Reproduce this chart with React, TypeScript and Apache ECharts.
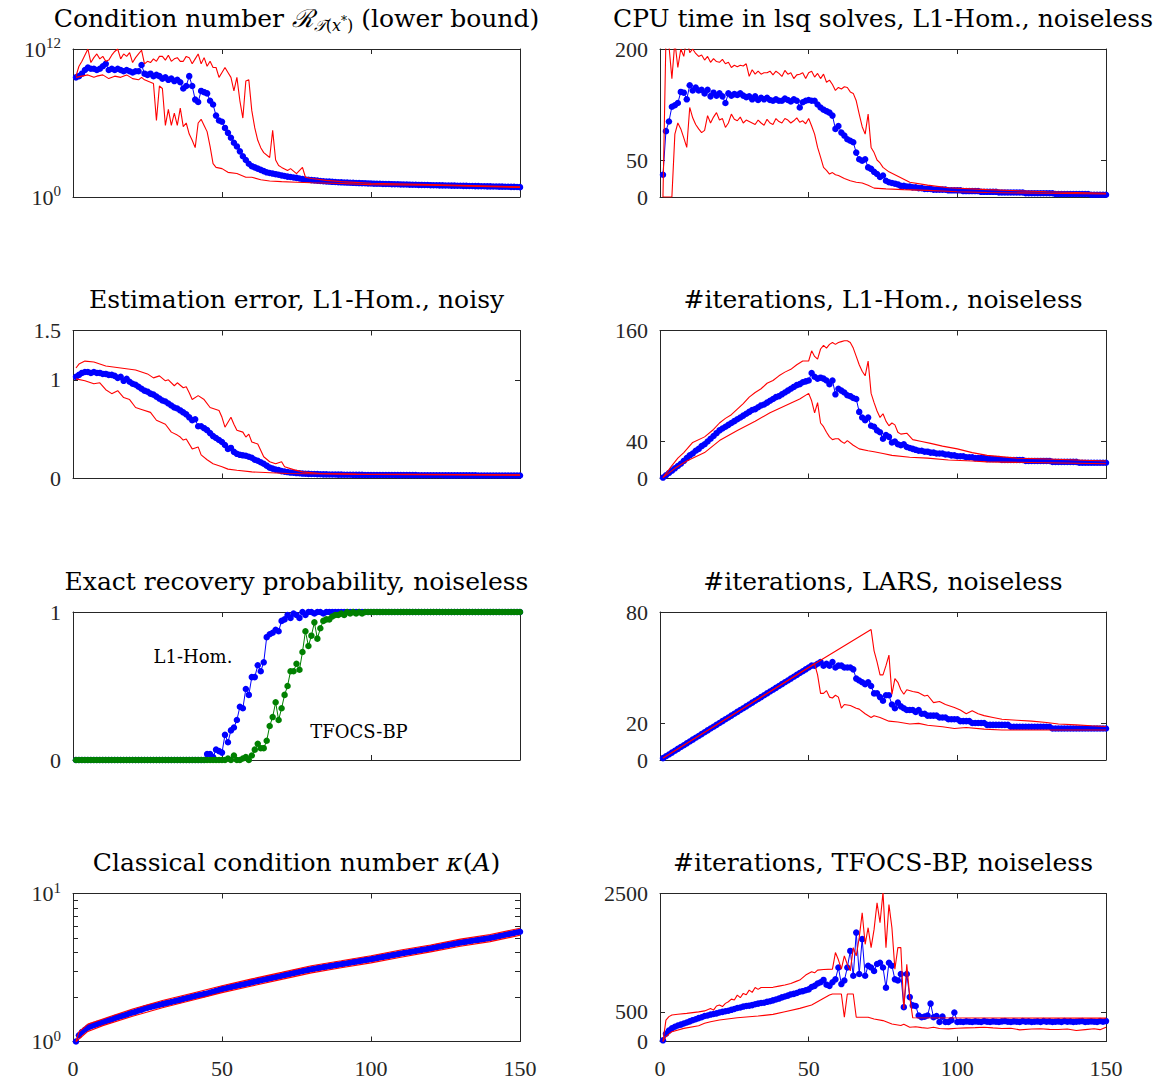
import React, { useEffect, useRef } from "react";
import * as echarts from "echarts";

// ---------- DATA (x = 1..150 for all index arrays) ----------
const xTicks = [0, 50, 100, 150];

// Panel 1: condition number (stored as log10 values)
const condBlueLog = [
  9.7, 9.8, 10.0, 10.3, 10.5, 10.4, 10.4, 10.3, 10.4, 10.6,
  10.8, 10.3, 10.4, 10.3, 10.4, 10.3, 10.2, 10.3, 10.2, 10.1,
  10.2, 10.2, 10.7, 10.0, 9.9, 10.0, 9.8, 9.9, 9.8, 9.6,
  9.7, 9.5, 9.6, 9.4, 9.5, 9.3, 8.8, 9.0, 9.8, 9.0,
  7.9, 7.7, 8.6, 8.5, 8.4, 7.8, 7.5, 6.6, 6.2, 6.1,
  5.6, 5.2, 4.8, 4.4, 4.1, 3.7, 3.3, 3.0, 2.7, 2.5,
  2.4, 2.3, 2.2, 2.1, 2.0, 1.95, 1.9, 1.85, 1.8, 1.75,
  1.7, 1.65, 1.62, 1.58, 1.55, 1.5, 1.45, 1.42, 1.4, 1.37,
  1.35, 1.33, 1.3, 1.28, 1.26, 1.25, 1.23, 1.22, 1.2, 1.19,
  1.18, 1.17, 1.16, 1.15, 1.14, 1.13, 1.12, 1.11, 1.1, 1.09,
  1.08, 1.07, 1.07, 1.06, 1.05, 1.05, 1.04, 1.03, 1.03, 1.02,
  1.01, 1.01, 1.0, 0.99, 0.99, 0.98, 0.98, 0.97, 0.97, 0.96,
  0.95, 0.95, 0.94, 0.94, 0.93, 0.93, 0.92, 0.92, 0.91, 0.91,
  0.9, 0.9, 0.89, 0.89, 0.88, 0.88, 0.87, 0.87, 0.86, 0.86,
  0.85, 0.85, 0.84, 0.84, 0.83, 0.83, 0.82, 0.82, 0.81, 0.8,
];
const condUpperLog = [
  [1, 9.8], [2, 10.6], [3, 11.0], [5, 12.0], [6, 10.9], [7, 11.3], [8, 11.6], [9, 11.2], [10, 11.4],
  [11, 11.0], [12, 11.1], [13, 11.5], [14, 11.8], [15, 12.0], [16, 11.2], [17, 11.6], [18, 11.4],
  [19, 11.7], [20, 10.9], [21, 11.3], [22, 11.6], [23, 11.9], [24, 10.8], [25, 11.0], [26, 10.9],
  [27, 11.2], [28, 11.0], [29, 11.4], [30, 11.4], [31, 11.1], [32, 11.5], [33, 11.0], [34, 11.2],
  [35, 11.3], [36, 11.0], [37, 11.0], [38, 11.4], [39, 11.3], [40, 10.8], [41, 11.2], [42, 11.6],
  [43, 10.8], [44, 11.3], [45, 10.6], [46, 11.0], [47, 10.5], [48, 10.5], [49, 9.7], [50, 10.1],
  [51, 10.5], [52, 10.1], [53, 9.7], [54, 8.6], [55, 9.7], [56, 7.8], [57, 6.4], [58, 9.4], [59, 9.5],
  [60, 7.0], [61, 5.6], [62, 4.6], [63, 4.0], [64, 3.6], [66, 3.2], [67, 5.4], [68, 3.0], [69, 2.55],
  [70, 2.4], [72, 2.15], [73, 2.3], [75, 1.9], [77, 2.4], [78, 1.6], [80, 1.5], [85, 1.35], [90, 1.25],
  [100, 1.12], [120, 1.0], [150, 0.82],
];
const condLowerLog = [
  [1, 9.7], [3, 9.8], [5, 9.9], [7, 9.7], [8, 9.8], [10, 9.9], [12, 9.6], [14, 9.8], [16, 9.7],
  [18, 9.9], [20, 9.6], [22, 9.5], [23, 9.7], [24, 9.5], [26, 9.3], [27, 9.2], [28, 6.2], [29, 9.0],
  [30, 8.8], [31, 5.8], [32, 7.1], [33, 5.8], [34, 6.8], [35, 5.8], [36, 7.2], [37, 5.7], [38, 6.0],
  [39, 5.1], [40, 4.6], [41, 4.0], [42, 6.0], [43, 6.3], [44, 5.8], [45, 5.3], [46, 4.1], [47, 2.7],
  [48, 2.4], [50, 2.3], [52, 2.0], [55, 1.9], [58, 1.6], [60, 1.6], [63, 1.4], [66, 1.3], [70, 1.25],
  [75, 1.2], [80, 1.15], [90, 1.1], [100, 1.0], [120, 0.95], [150, 0.78],
];

// Panel 2: CPU time
const cpuBlue = [
  30, 89, 102, 122, 124, 127, 142, 141, 132, 151,
  144, 148, 144, 145, 140, 145, 136, 141, 137, 140,
  136, 127, 140, 137, 139, 138, 140, 137, 135, 136,
  132, 136, 131, 134, 132, 134, 131, 130, 132, 130,
  130, 133, 131, 129, 132, 130, 121, 128, 130, 131,
  130, 130, 125, 121, 118, 116, 114, 110, 92, 96,
  87, 83, 78, 76, 74, 60, 51, 49, 51, 40,
  38, 34, 31, 27, 29, 22, 20, 19, 18, 17,
  15, 15, 14, 14, 13, 13, 12, 12, 11, 11,
  11, 10, 10, 10, 10, 10, 9, 9, 9, 9,
  9, 8, 8, 8, 8, 8, 8, 7, 7, 7,
  7, 7, 7, 6, 6, 6, 6, 6, 6, 6,
  6, 6, 5, 5, 5, 5, 5, 5, 5, 5,
  5, 5, 4, 4, 4, 4, 4, 4, 4, 4,
  4, 4, 4, 4, 3, 3, 3, 3, 3, 3,
];
const cpuUpper = [
  [1, 0], [2, 215], [3, 205], [4, 160], [5, 210], [6, 175], [7, 200], [8, 190], [9, 215], [10, 195],
  [11, 200], [12, 194], [13, 190], [14, 192], [15, 185], [16, 190], [17, 182], [18, 187], [19, 183],
  [20, 182], [21, 186], [22, 180], [23, 182], [24, 175], [25, 178], [26, 176], [27, 178], [28, 177],
  [29, 180], [30, 163], [31, 172], [32, 166], [33, 170], [34, 166], [35, 168], [36, 168], [37, 170],
  [38, 165], [39, 170], [40, 167], [41, 163], [42, 171], [43, 166], [44, 168], [45, 160], [46, 165],
  [47, 166], [48, 168], [49, 160], [50, 168], [51, 170], [52, 162], [53, 167], [54, 160], [55, 166],
  [56, 155], [57, 158], [58, 152], [59, 144], [60, 148], [61, 146], [62, 149], [63, 148], [64, 142],
  [65, 140], [66, 130], [67, 112], [68, 95], [69, 85], [70, 112], [71, 67], [72, 60], [73, 50],
  [74, 46], [75, 40], [77, 34], [80, 28], [84, 20], [90, 16], [97, 12.5], [110, 10], [130, 7], [150, 5],
];
const cpuLower = [
  [1, 0], [2, 0], [3, 0], [4, 0], [5, 85], [6, 100], [7, 92], [8, 80], [9, 67], [10, 121], [11, 107],
  [12, 98], [13, 92], [14, 87], [15, 90], [16, 110], [17, 100], [18, 108], [19, 114], [20, 104],
  [21, 106], [22, 94], [23, 100], [24, 112], [25, 105], [26, 103], [27, 108], [28, 100], [29, 104],
  [30, 102], [31, 100], [32, 98], [33, 104], [34, 100], [35, 97], [36, 105], [37, 100], [38, 98],
  [39, 106], [40, 102], [41, 100], [42, 106], [43, 104], [44, 100], [45, 103], [46, 107], [47, 101],
  [48, 103], [49, 99], [50, 106], [51, 96], [52, 85], [53, 67], [54, 54], [55, 40], [56, 36], [57, 31],
  [58, 33], [59, 30], [60, 29], [62, 25], [64, 22], [66, 20], [68, 19], [70, 16], [72, 12], [76, 11],
  [82, 10], [90, 9], [100, 7], [110, 6], [130, 5], [150, 4],
];

// Panel 3: estimation error
const estBlue = [
  1.03, 1.05, 1.07, 1.08, 1.08, 1.07, 1.08, 1.07, 1.07, 1.06,
  1.06, 1.05, 1.05, 1.04, 1.02, 1.03, 0.99, 1.01, 0.98, 0.96,
  0.95, 0.93, 0.91, 0.89, 0.88, 0.86, 0.85, 0.83, 0.81, 0.79,
  0.78, 0.76, 0.74, 0.72, 0.71, 0.69, 0.67, 0.65, 0.62, 0.59,
  0.6, 0.53, 0.53, 0.51, 0.49, 0.46, 0.43, 0.41, 0.39, 0.37,
  0.34, 0.3, 0.31, 0.27, 0.25, 0.24, 0.235, 0.23, 0.22, 0.21,
  0.19, 0.18, 0.165, 0.15, 0.13, 0.11, 0.1, 0.09, 0.085, 0.075,
  0.07, 0.065, 0.06, 0.058, 0.055, 0.053, 0.05, 0.048, 0.047, 0.046,
  0.045, 0.044, 0.043, 0.042, 0.042, 0.041, 0.04, 0.04, 0.039, 0.039,
  0.038, 0.038, 0.038, 0.037, 0.037, 0.037, 0.037, 0.036, 0.036, 0.036,
  0.036, 0.036, 0.035, 0.035, 0.035, 0.035, 0.035, 0.035, 0.034, 0.034,
  0.034, 0.034, 0.034, 0.034, 0.034, 0.033, 0.033, 0.033, 0.033, 0.033,
  0.033, 0.033, 0.033, 0.033, 0.032, 0.032, 0.032, 0.032, 0.032, 0.032,
  0.032, 0.032, 0.032, 0.032, 0.032, 0.031, 0.031, 0.031, 0.031, 0.031,
  0.031, 0.031, 0.031, 0.031, 0.031, 0.031, 0.03, 0.03, 0.03, 0.03,
];
const estUpper = [
  [1, 1.12], [2, 1.16], [4, 1.19], [7, 1.18], [11, 1.14], [16, 1.12], [21, 1.1], [25, 1.06], [27, 1.02],
  [29, 1.04], [31, 0.99], [32, 1.0], [34, 0.94], [35, 0.97], [37, 0.92], [38, 0.93], [39, 0.87],
  [40, 0.8], [42, 0.84], [44, 0.8], [46, 0.72], [49, 0.69], [50, 0.62], [51, 0.52], [53, 0.62],
  [54, 0.55], [55, 0.49], [57, 0.47], [58, 0.42], [59, 0.45], [60, 0.37], [62, 0.35], [64, 0.22],
  [66, 0.17], [68, 0.15], [70, 0.17], [71, 0.12], [74, 0.09], [77, 0.067], [83, 0.05], [95, 0.044],
  [150, 0.037],
];
const estLower = [
  [1, 1.01], [4, 0.99], [7, 0.96], [9, 0.97], [11, 0.9], [13, 0.86], [15, 0.89], [17, 0.82],
  [19, 0.8], [21, 0.72], [23, 0.7], [26, 0.67], [28, 0.59], [31, 0.55], [33, 0.47], [35, 0.44],
  [36, 0.42], [37, 0.39], [38, 0.4], [40, 0.3], [42, 0.32], [43, 0.24], [45, 0.19], [47, 0.15],
  [50, 0.12], [52, 0.095], [55, 0.084], [60, 0.067], [72, 0.05], [100, 0.04], [150, 0.034],
];

// Panel 4: #iterations, L1-Hom.
const itBlue = [
  1, 3.5, 6, 8.5, 11, 13.5, 16, 19, 22, 25,
  27, 30, 32, 35, 37, 40, 43, 46, 49, 52,
  54, 56, 58, 60, 62, 64, 66, 68, 70, 72,
  74, 75, 77, 79, 80, 82, 84, 86, 88, 89,
  91, 93, 95, 97, 99, 101, 102, 104, 105, 106,
  114, 110, 108, 109, 108, 106, 102, 106, 91, 97,
  95, 93, 90, 89, 87, 86, 72, 66, 63, 66,
  57, 56, 52, 50, 43, 47, 45, 39, 40, 37,
  36, 37, 34, 33, 32, 31, 30, 30, 29, 29,
  28, 28, 27, 27, 27, 26, 26, 25, 25, 24,
  24, 24, 23, 23, 23, 22, 22, 22, 22, 21,
  21, 21, 21, 21, 20, 20, 20, 20, 20, 20,
  20, 20, 19, 19, 19, 19, 19, 19, 19, 19,
  19, 18, 18, 18, 18, 18, 18, 18, 18, 18,
  17, 17, 17, 17, 17, 17, 17, 17, 17, 17,
];
const itUpper = [
  [1, 1], [4, 14], [6, 22], [8, 28], [11, 39], [15, 45], [18, 53], [20, 60], [22, 65], [24, 69],
  [26, 75], [28, 81], [30, 88], [32, 93], [34, 97], [36, 103], [38, 106], [40, 111], [42, 115],
  [44, 118], [46, 123], [48, 127], [50, 127], [51, 138], [52, 132], [53, 129], [54, 140], [55, 144],
  [56, 141], [57, 145], [58, 147], [59, 145], [60, 147], [61, 148], [62, 149], [63, 149], [64, 147],
  [65, 141], [66, 132], [67, 123], [68, 116], [69, 111], [70, 127], [71, 92], [72, 82], [73, 73],
  [74, 66], [75, 70], [76, 62], [77, 57], [78, 60], [79, 58], [80, 50], [81, 48], [83, 49], [85, 42],
  [88, 40], [91, 38], [95, 35], [100, 32], [105, 28], [110, 25], [120, 22], [130, 21], [150, 19],
];
const itLower = [
  [1, 1], [5, 11], [9, 19], [15, 28], [20, 41], [26, 52], [32, 62], [37, 71], [43, 80], [47, 86],
  [50, 92], [51, 84], [52, 71], [53, 82], [54, 60], [55, 56], [56, 50], [57, 45], [58, 42], [59, 43],
  [60, 43], [61, 40], [62, 38], [63, 41], [65, 36], [67, 32], [70, 30], [72, 29], [75, 27], [78, 25],
  [84, 23], [90, 22], [97, 20], [105, 19], [110, 18], [130, 17], [150, 16],
];

// Panel 5: exact recovery probability
const recHom = [
  0, 0, 0, 0, 0, 0, 0, 0, 0, 0,
  0, 0, 0, 0, 0, 0, 0, 0, 0, 0,
  0, 0, 0, 0, 0, 0, 0, 0, 0, 0,
  0, 0, 0, 0, 0, 0, 0, 0, 0, 0,
  0, 0, 0, 0, 0.04, 0.04, 0.02, 0.07, 0.06, 0.05,
  0.17, 0.12, 0.2, 0.22, 0.27, 0.36, 0.35, 0.48, 0.44, 0.56,
  0.56, 0.64, 0.6, 0.66, 0.83, 0.85, 0.86, 0.88, 0.87, 0.94,
  0.95, 0.98, 0.96, 0.99, 0.98, 0.96, 1, 0.98, 1, 1,
  0.99, 1, 1, 0.99, 1, 1, 1, 1, 1, 1,
  1, 1, 1, 1, 1, 1, 1, 1, 1, 1,
  1, 1, 1, 1, 1, 1, 1, 1, 1, 1,
  1, 1, 1, 1, 1, 1, 1, 1, 1, 1,
  1, 1, 1, 1, 1, 1, 1, 1, 1, 1,
  1, 1, 1, 1, 1, 1, 1, 1, 1, 1,
  1, 1, 1, 1, 1, 1, 1, 1, 1, 1,
];
const recTfocs = [
  0, 0, 0, 0, 0, 0, 0, 0, 0, 0,
  0, 0, 0, 0, 0, 0, 0, 0, 0, 0,
  0, 0, 0, 0, 0, 0, 0, 0, 0, 0,
  0, 0, 0, 0, 0, 0, 0, 0, 0, 0,
  0, 0, 0, 0, 0, 0, 0, 0, 0, 0,
  0, 0.01, 0, 0.03, 0, 0, 0.01, 0.02, 0, 0.03,
  0.07, 0.11, 0.08, 0.08, 0.13, 0.23, 0.29, 0.39, 0.27, 0.35,
  0.44, 0.5, 0.6, 0.6, 0.65, 0.61, 0.73, 0.87, 0.77, 0.84,
  0.93, 0.82, 0.89, 0.94, 0.95, 0.95, 0.97, 0.98, 0.98, 0.99,
  0.98, 1, 0.99, 1, 0.99, 1, 0.99, 1, 1, 1,
  1, 1, 1, 1, 1, 1, 1, 1, 1, 1,
  1, 1, 1, 1, 1, 1, 1, 1, 1, 1,
  1, 1, 1, 1, 1, 1, 1, 1, 1, 1,
  1, 1, 1, 1, 1, 1, 1, 1, 1, 1,
  1, 1, 1, 1, 1, 1, 1, 1, 1, 1,
];

// Panel 6: #iterations, LARS
const larsBlue = [
  1, 2, 3, 4, 5, 6, 7, 8, 9, 10,
  11, 12, 13, 14, 15, 16, 17, 18, 19, 20,
  21, 22, 23, 24, 25, 26, 27, 28, 29, 30,
  31, 32, 33, 34, 35, 36, 37, 38, 39, 40,
  41, 42, 43, 44, 45, 46, 47, 48, 49, 50,
  51, 51, 52, 53, 51, 52, 51, 53, 50, 51,
  51, 50, 50, 50, 49, 44, 43, 42, 41, 42,
  40, 36, 36, 34, 32, 35, 35, 30, 28, 31,
  29, 28, 27, 27, 27, 26, 27, 25, 25, 24,
  24, 24, 24, 23, 23, 23, 22, 22, 22, 22,
  21, 21, 21, 21, 20, 20, 20, 20, 20, 19,
  19, 19, 19, 19, 19, 19, 19, 18, 18, 18,
  18, 18, 18, 18, 18, 18, 18, 18, 18, 18,
  18, 17, 17, 17, 17, 17, 17, 17, 17, 17,
  17, 17, 17, 17, 17, 17, 17, 17, 17, 17,
];
const larsUpper = [
  [1, 1], [50, 50], [71, 70.5], [72, 59], [73, 53], [74, 46], [75, 46], [76, 51], [77, 56.7],
  [78, 35.5], [79, 44], [80, 42], [81, 38], [82, 35.5], [83, 38], [85, 37], [87, 36.4], [89, 34.6],
  [90, 35], [92, 31], [94, 31.6], [96, 30], [99, 28.4], [101, 27], [103, 25], [105, 26.6], [107, 25],
  [109, 24], [112, 23], [115, 22], [120, 21.5], [125, 21], [130, 20.3], [134, 19.5], [140, 19],
  [145, 18.5], [150, 18.1],
];
const larsLower = [
  [1, 1], [52, 52], [53, 46], [54, 36], [55, 36], [56, 37.5], [57, 34], [58, 33.5], [59, 35], [60, 34],
  [61, 28], [62, 30], [64, 29.5], [66, 28], [67, 27.5], [69, 25], [71, 23], [72, 23.9], [74, 23],
  [77, 21], [80, 20.5], [84, 19.5], [87, 19.8], [90, 18.8], [95, 18], [99, 17], [103, 17.6],
  [109, 16.7], [115, 16.2], [150, 16.2],
];

// Panel 7: classical condition number kappa(A)
const kappaBlue = [
  1.0, 1.1, 1.16, 1.2, 1.24, 1.27, 1.29, 1.31, 1.33, 1.35,
  1.37, 1.39, 1.41, 1.44, 1.46, 1.48, 1.5, 1.52, 1.55, 1.57,
  1.59, 1.62, 1.64, 1.67, 1.69, 1.71, 1.73, 1.75, 1.77, 1.79,
  1.81, 1.83, 1.85, 1.87, 1.89, 1.91, 1.94, 1.96, 1.98, 2.01,
  2.03, 2.05, 2.07, 2.09, 2.11, 2.14, 2.17, 2.2, 2.23, 2.26,
  2.28, 2.31, 2.33, 2.36, 2.38, 2.41, 2.43, 2.46, 2.48, 2.51,
  2.54, 2.56, 2.59, 2.62, 2.64, 2.67, 2.7, 2.72, 2.75, 2.78,
  2.81, 2.84, 2.87, 2.9, 2.93, 2.96, 2.99, 3.02, 3.05, 3.08,
  3.1, 3.13, 3.15, 3.18, 3.2, 3.23, 3.25, 3.28, 3.3, 3.33,
  3.36, 3.38, 3.41, 3.44, 3.46, 3.49, 3.52, 3.55, 3.57, 3.6,
  3.63, 3.66, 3.7, 3.73, 3.76, 3.79, 3.83, 3.86, 3.89, 3.93,
  3.96, 3.99, 4.02, 4.06, 4.09, 4.12, 4.16, 4.19, 4.22, 4.26,
  4.3, 4.34, 4.38, 4.42, 4.46, 4.5, 4.54, 4.58, 4.62, 4.66,
  4.69, 4.73, 4.76, 4.8, 4.83, 4.86, 4.9, 4.93, 4.97, 5.0,
  5.05, 5.1, 5.15, 5.2, 5.26, 5.31, 5.36, 5.41, 5.47, 5.52,
];
const kappaUpper = [
  [1, 1.0], [2, 1.16], [5, 1.31], [10, 1.42], [20, 1.66], [30, 1.89], [40, 2.12], [50, 2.38],
  [60, 2.65], [70, 2.93], [80, 3.25], [90, 3.51], [100, 3.8], [110, 4.15], [120, 4.49],
  [130, 4.92], [140, 5.28], [150, 5.83],
];
const kappaLower = [
  [1, 1.0], [2, 1.04], [5, 1.17], [10, 1.28], [20, 1.48], [30, 1.69], [40, 1.9], [50, 2.14],
  [60, 2.37], [70, 2.63], [80, 2.91], [90, 3.15], [100, 3.4], [110, 3.71], [120, 4.03],
  [130, 4.4], [140, 4.73], [150, 5.22],
];

// Panel 8: #iterations, TFOCS-BP
const tfBlue = [
  20, 130, 185, 222, 250, 270, 285, 305, 320, 340,
  360, 375, 395, 410, 430, 440, 455, 465, 475, 490,
  500, 510, 520, 535, 550, 565, 575, 590, 600, 605,
  615, 630, 640, 650, 655, 670, 680, 695, 710, 725,
  745, 760, 775, 795, 805, 820, 840, 850, 865, 880,
  920, 940, 980, 1000, 1040, 960, 940, 1000, 1050, 1250,
  970, 1030, 1250, 1530, 1110, 1840, 1140, 1730, 1110, 1280,
  1250, 1190, 1310, 1330, 1250, 910, 1330, 1280, 1050, 1030,
  1140, 580, 1140, 750, 610, 600, 440, 410, 420, 440,
  640, 410, 430, 330, 420, 330, 330, 360, 490, 330,
  335, 330, 340, 335, 330, 340, 335, 330, 345, 335,
  330, 340, 335, 330, 340, 345, 335, 330, 340, 335,
  330, 345, 335, 340, 330, 335, 340, 330, 345, 335,
  340, 330, 335, 340, 330, 345, 335, 340, 330, 335,
  340, 345, 330, 335, 340, 335, 330, 345, 335, 345,
];
const tfUpper = [
  [1, 0], [2, 360], [3, 420], [4, 447], [6, 460], [9, 475], [13, 500], [15, 517], [17, 557], [18, 530],
  [19, 600], [20, 615], [21, 590], [22, 644], [23, 671], [24, 716], [25, 700], [26, 783], [27, 740],
  [28, 812], [29, 790], [30, 868], [31, 830], [32, 913], [33, 880], [34, 913], [36, 913], [38, 915],
  [40, 936], [42, 953], [44, 981], [46, 1020], [47, 1038], [49, 1122], [51, 1178], [52, 1160],
  [53, 1206], [55, 1217], [58, 1222], [59, 1502], [60, 1380], [61, 1222], [62, 1446], [63, 1300],
  [64, 1194], [65, 1586], [66, 1446], [67, 1754], [68, 2175], [69, 1642], [70, 1922], [71, 1586],
  [72, 1894], [73, 2343], [74, 2006], [75, 2520], [76, 1586], [77, 2315], [78, 1922], [79, 1222],
  [80, 1586], [81, 1586], [82, 549], [83, 1306], [84, 750], [85, 400], [150, 395],
];
const tfLower = [
  [1, 0], [2, 81], [4, 166], [8, 222], [13, 267], [15, 307], [17, 335], [20, 363], [26, 402],
  [33, 430], [38, 458], [42, 503], [47, 560], [51, 616], [54, 700], [57, 784], [58, 802], [61, 802],
  [62, 409], [63, 802], [65, 802], [66, 409], [70, 409], [72, 381], [75, 353], [78, 297], [81, 269],
  [82, 290], [84, 241], [86, 250], [88, 235], [90, 224], [92, 240], [94, 220], [97, 213], [100, 225],
  [103, 230], [106, 235], [109, 241], [112, 230], [115, 220], [118, 225], [121, 196], [125, 210],
  [128, 215], [131, 205], [134, 202], [137, 210], [140, 185], [143, 200], [146, 215], [148, 200],
  [150, 241],
];

// ---------- STYLE / LAYOUT ----------
const AXIS_COLOR = "#262626";
const TICK_FONT = "'Liberation Serif', 'Times New Roman', Times, serif";
const TITLE_FONT = "'DejaVu Serif', 'Liberation Serif', serif";
const BLUE = "#0000ff";
const RED = "#ff0000";
const GREEN = "#008000";

const COL_LEFT = [73, 660];
const COL_WIDTH = [447, 446];
const ROW_TOP = [49, 330.5, 612, 893.5];
const PLOT_H = 148;

const indexed = (vals: number[]) => vals.map((v, i) => [i + 1, v]);

const markerLine = (data: any[], color: string, z = 2) => ({
  type: "line",
  data,
  symbol: "circle",
  symbolSize: 6.5,
  showSymbol: true,
  lineStyle: { color, width: 1 },
  itemStyle: { color },
  silent: true,
  z,
});
const plainLine = (data: any[], color: string) => ({
  type: "line",
  data,
  showSymbol: false,
  symbol: "none",
  lineStyle: { color, width: 1.1 },
  silent: true,
  z: 3,
});

const powRich = {
  b: { fontFamily: TICK_FONT, fontSize: 22, color: AXIS_COLOR },
  e: { fontFamily: TICK_FONT, fontSize: 15, color: AXIS_COLOR, padding: [0, 0, 12, 0] },
};

type Panel = {
  col: number;
  row: number;
  yType: "value" | "log";
  yMin: number;
  yMax: number;
  yTicks: number[];
  yLabels: number[];
  fmt?: (v: number) => string;
  rich?: any;
  series: any[];
};

const panels: Panel[] = [
  {
    col: 0, row: 0, yType: "value", yMin: 0, yMax: 12, yTicks: [0, 12], yLabels: [0, 12],
    fmt: (v) => `{b|10}{e|${Math.round(v)}}`, rich: powRich,
    series: [
      markerLine(indexed(condBlueLog), BLUE),
      plainLine(condUpperLog, RED),
      plainLine(condLowerLog, RED),
    ],
  },
  {
    col: 1, row: 0, yType: "value", yMin: 0, yMax: 200, yTicks: [0, 50, 200], yLabels: [0, 50, 200],
    series: [markerLine(indexed(cpuBlue), BLUE), plainLine(cpuUpper, RED), plainLine(cpuLower, RED)],
  },
  {
    col: 0, row: 1, yType: "value", yMin: 0, yMax: 1.5, yTicks: [0, 1, 1.5], yLabels: [0, 1, 1.5],
    series: [markerLine(indexed(estBlue), BLUE), plainLine(estUpper, RED), plainLine(estLower, RED)],
  },
  {
    col: 1, row: 1, yType: "value", yMin: 0, yMax: 160, yTicks: [0, 40, 160], yLabels: [0, 40, 160],
    series: [markerLine(indexed(itBlue), BLUE), plainLine(itUpper, RED), plainLine(itLower, RED)],
  },
  {
    col: 0, row: 2, yType: "value", yMin: 0, yMax: 1, yTicks: [0, 1], yLabels: [0, 1],
    series: [markerLine(indexed(recHom), BLUE), markerLine(indexed(recTfocs), GREEN, 3)],
  },
  {
    col: 1, row: 2, yType: "value", yMin: 0, yMax: 80, yTicks: [0, 20, 80], yLabels: [0, 20, 80],
    series: [markerLine(indexed(larsBlue), BLUE), plainLine(larsUpper, RED), plainLine(larsLower, RED)],
  },
  {
    col: 0, row: 3, yType: "log", yMin: 1, yMax: 10, yTicks: [1, 2, 3, 4, 5, 6, 7, 8, 9, 10], yLabels: [1, 10],
    fmt: (v) => `{b|10}{e|${Math.round(Math.log10(v))}}`, rich: powRich,
    series: [markerLine(indexed(kappaBlue), BLUE), plainLine(kappaUpper, RED), plainLine(kappaLower, RED)],
  },
  {
    col: 1, row: 3, yType: "value", yMin: 0, yMax: 2500, yTicks: [0, 500, 2500], yLabels: [0, 500, 2500],
    series: [markerLine(indexed(tfBlue), BLUE), plainLine(tfUpper, RED), plainLine(tfLower, RED)],
  },
];

const TS = 25;
const titleRich = {
  t: { fontFamily: TITLE_FONT, fontSize: TS, color: "#000" },
  i: { fontFamily: TITLE_FONT, fontSize: TS, color: "#000", fontStyle: "italic" },
  r: { fontFamily: TITLE_FONT, fontSize: TS, color: "#000", fontStyle: "italic" },
  s: { fontFamily: TITLE_FONT, fontSize: 16, color: "#000", padding: [14, 0, 0, 0] },
  si: { fontFamily: TITLE_FONT, fontSize: 16, color: "#000", fontStyle: "italic", padding: [14, 0, 0, 0] },
  sp: { fontFamily: TITLE_FONT, fontSize: 12, color: "#000", padding: [6, 0, 0, 0] },
};

const titles = [
  "{t|Condition number }{r|ℛ}{si|𝒯}{s|(}{si|x}{sp|*}{s|)}{t| (lower bound)}",
  "{t|CPU time in lsq solves, L1-Hom., noiseless}",
  "{t|Estimation error, L1-Hom., noisy}",
  "{t|#iterations, L1-Hom., noiseless}",
  "{t|Exact recovery probability, noiseless}",
  "{t|#iterations, LARS, noiseless}",
  "{t|Classical condition number }{i|κ}{t|(}{i|A}{t|)}",
  "{t|#iterations, TFOCS-BP, noiseless}",
];

function buildOption() {
  const grid: any[] = [];
  const xAxis: any[] = [];
  const yAxis: any[] = [];
  const series: any[] = [];
  const graphic: any[] = [];

  const axisLine = { show: true, onZero: false, lineStyle: { color: AXIS_COLOR, width: 1 } };
  const tickStyle = { show: true, inside: true, length: 5, lineStyle: { color: AXIS_COLOR, width: 1 } };
  const labelFont = { fontFamily: TICK_FONT, fontSize: 22, color: AXIS_COLOR };

  panels.forEach((p, i) => {
    const left = COL_LEFT[p.col];
    const width = COL_WIDTH[p.col];
    const top = ROW_TOP[p.row];
    grid.push({ left, top, width, height: PLOT_H, containLabel: false, show: false });

    ["bottom", "top"].forEach((pos, k) => {
      xAxis.push({
        gridIndex: i,
        type: "value",
        position: pos,
        min: 0,
        max: 150,
        interval: 50,
        axisLine,
        axisTick: { ...tickStyle, customValues: xTicks },
        axisLabel: {
          show: k === 0 && p.row === 3,
          margin: 16,
          customValues: xTicks,
          ...labelFont,
        },
        splitLine: { show: false },
      });
    });

    ["left", "right"].forEach((pos, k) => {
      yAxis.push({
        gridIndex: i,
        type: p.yType,
        logBase: 10,
        position: pos,
        min: p.yMin,
        max: p.yMax,
        axisLine,
        axisTick: { ...tickStyle, customValues: p.yTicks },
        minorTick: { show: false },
        axisLabel: {
          show: k === 0,
          margin: 12,
          customValues: p.yLabels,
          formatter: p.fmt ? (v: number) => p.fmt!(v) : (v: number) => String(v),
          rich: p.rich,
          ...labelFont,
        },
        splitLine: { show: false },
      });
    });

    p.series.forEach((s) => {
      series.push({ ...s, xAxisIndex: 2 * i, yAxisIndex: 2 * i });
    });

    graphic.push({
      type: "text",
      x: left + width / 2,
      y: top - 31,
      style: {
        text: titles[i],
        rich: titleRich,
        fontFamily: TITLE_FONT,
        fontSize: TS,
        fill: "#000",
        align: "center",
        verticalAlign: "middle",
        textAlign: "center",
        textVerticalAlign: "middle",
      },
      silent: true,
    });
  });

  // in-plot annotations of the recovery panel
  const annot = (text: string, x: number, y: number) => ({
    type: "text",
    x,
    y,
    style: {
      text,
      fontFamily: TITLE_FONT,
      fontSize: 18,
      fill: "#000",
      align: "center",
      verticalAlign: "middle",
      textAlign: "center",
      textVerticalAlign: "middle",
    },
    silent: true,
  });
  graphic.push(annot("L1-Hom.", 193, 656));
  graphic.push(annot("TFOCS-BP", 359, 731));

  return {
    animation: false,
    backgroundColor: "#ffffff",
    grid,
    xAxis,
    yAxis,
    series,
    graphic,
  };
}

export default function App() {
  const ref = useRef<HTMLDivElement>(null);
  useEffect(() => {
    if (!ref.current) return;
    const chart = echarts.init(ref.current, null, { renderer: "svg" });
    chart.setOption(buildOption() as any);
    return () => chart.dispose();
  }, []);
  return (
    <div
      ref={ref}
      style={{ position: "fixed", left: 0, top: 0, width: 1158, height: 1086, background: "#fff" }}
    />
  );
}
